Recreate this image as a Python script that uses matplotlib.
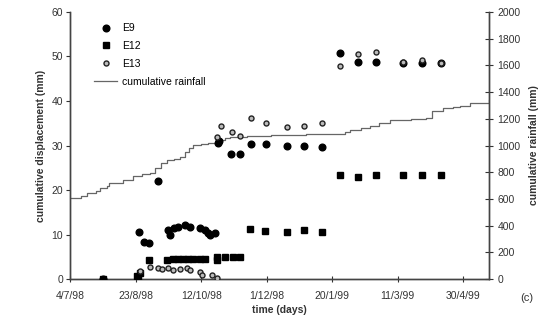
import matplotlib
matplotlib.use("Agg")
import matplotlib.pyplot as plt

plt.rcParams['font.family'] = ['Liberation Sans', 'DejaVu Sans']

# x in days since 4/7/98
xtick_days = [0, 50, 100, 150, 200, 250, 300]
xtick_labels = ["4/7/98", "23/8/98", "12/10/98", "1/12/98", "20/1/99", "11/3/99", "30/4/99"]

e9_day = [25.2, 52.3, 56, 59.8, 67.4, 75, 76.3, 78.9, 82.7, 87.8, 91.6, 99.2, 103, 105.6, 106.9, 110.7,
          113.2, 113.5, 122.7, 129.8, 137.9, 149.6, 165.9, 178.9, 192.1, 206.1, 219.8, 233.6, 254.2, 268.9, 283.2]
e9_mm = [0, 10.6, 8.4, 8.0, 22.1, 11.0, 9.9, 11.4, 11.8, 12.1, 11.8, 11.4, 11.0, 10.3, 9.9, 10.3,
         30.5, 31.0, 28.2, 28.2, 30.3, 30.3, 29.9, 29.9, 29.6, 50.7, 48.7, 48.8, 48.5, 48.5, 48.5]

e12_day = [25.2, 51.1, 51.9, 53.4, 59.8, 73.8, 78.6, 82.4, 86.3, 90.1, 93.9, 99.2, 103, 112, 112,
           118.3, 124.7, 129.8, 137.4, 148.9, 165.9, 178.9, 192.1, 206.1, 220.1, 233.6, 254.2, 268.9, 283.2]
e12_mm = [0, 0.7, 0.3, 1.3, 4.3, 4.3, 4.4, 4.4, 4.4, 4.6, 4.6, 4.6, 4.6, 5.0, 4.3,
          5.0, 5.0, 5.0, 11.2, 10.9, 10.6, 11.0, 10.6, 23.4, 22.9, 23.4, 23.4, 23.4, 23.4]

e13_day = [53.4, 61.1, 67.2, 70.2, 74.8, 78.6, 84, 89.3, 91.6, 99.2, 100.5, 108.2, 112, 112,
           115, 123.4, 129.8, 137.9, 149.6, 165.9, 178.9, 192.1, 206.1, 219.8, 233.6, 254.2, 268.9, 283.2]
e13_mm = [1.8, 2.8, 2.4, 2.2, 2.4, 2.0, 2.2, 2.4, 2.0, 1.6, 0.9, 0.9, 0.15, 32.0,
          34.4, 33.1, 32.1, 36.1, 35.1, 34.1, 34.4, 35.0, 47.9, 50.5, 50.9, 48.8, 49.2, 48.6]

rain_day = [0, 8, 13, 20, 23, 28, 30, 40, 48, 55, 61, 65, 69, 74, 79, 84, 88, 91, 94, 100, 105, 112,
            118, 122, 135, 153, 180, 204, 210, 214, 222, 229, 236, 244, 260, 272, 276, 285, 292, 298, 305, 320]
rain_mm = [609, 620, 642, 660, 682, 700, 719, 745, 772, 785, 796, 830, 869, 891, 900, 914, 950, 985, 1004,
           1012, 1019, 1041, 1055, 1064, 1075, 1079, 1085, 1090, 1100, 1116, 1130, 1146, 1170, 1191, 1200,
           1206, 1260, 1281, 1290, 1296, 1318, 1341]

fig = plt.figure(figsize=(5.4, 3.33), dpi=100)
ax = fig.add_axes([0.130, 0.162, 0.776, 0.802])
ax2 = ax.twinx()

tc = '#333333'
l_rain, = ax2.plot(rain_day, rain_mm, drawstyle='steps-post', color='#666666', lw=0.9,
                   label='cumulative rainfall')
l9, = ax.plot(e9_day, e9_mm, 'o', ms=4.8, color='black', mec='black', label='E9', zorder=5)
l12, = ax.plot(e12_day, e12_mm, 's', ms=4.3, color='black', mec='black', label='E12', zorder=4)
l13, = ax.plot(e13_day, e13_mm, 'o', ms=3.6, mfc='#bbbbbb', mec='#222222', mew=1.0,
               label='E13', zorder=6)
ax.set_zorder(ax2.get_zorder() + 1)
ax.patch.set_visible(False)

ax.set_xlim(0, 320)
ax.set_ylim(0, 60)
ax2.set_ylim(0, 2000)
ax.set_xticks(xtick_days)
ax.set_xticklabels(xtick_labels)
ax.set_yticks(range(0, 61, 10))
ax2.set_yticks(range(0, 2001, 200))

for a in (ax, ax2):
    a.spines['top'].set_visible(False)
    for s in a.spines.values():
        s.set_color('#444444')
        s.set_linewidth(1.0)
ax.tick_params(axis='y', direction='out', length=3, labelsize=7.5, colors=tc, pad=2)
ax.tick_params(axis='x', direction='inout', length=5, labelsize=7.5, colors=tc, pad=6)
ax2.tick_params(axis='y', direction='inout', length=6, labelsize=7.5, colors=tc, pad=3)

ax.set_ylabel('cumulative displacement (mm)', fontsize=7.5, fontweight='bold', color=tc, labelpad=4)
ax2.set_ylabel('cumulative rainfall (mm)', fontsize=7.5, fontweight='bold', color=tc,
               rotation=90, labelpad=6)
ax.set_xlabel('time (days)', fontsize=7.5, fontweight='bold', color=tc, labelpad=3)

ax.legend([l9, l12, l13, l_rain], ['E9', 'E12', 'E13', 'cumulative rainfall'],
          loc='upper left', bbox_to_anchor=(0.04, 0.985), frameon=False, fontsize=7.5,
          handlelength=2.2, handletextpad=0.5, labelspacing=0.75, borderpad=0.2)

fig.text(0.963, 0.095, '(c)', fontsize=8, color=tc)

fig.savefig('out.png', dpi=100)
